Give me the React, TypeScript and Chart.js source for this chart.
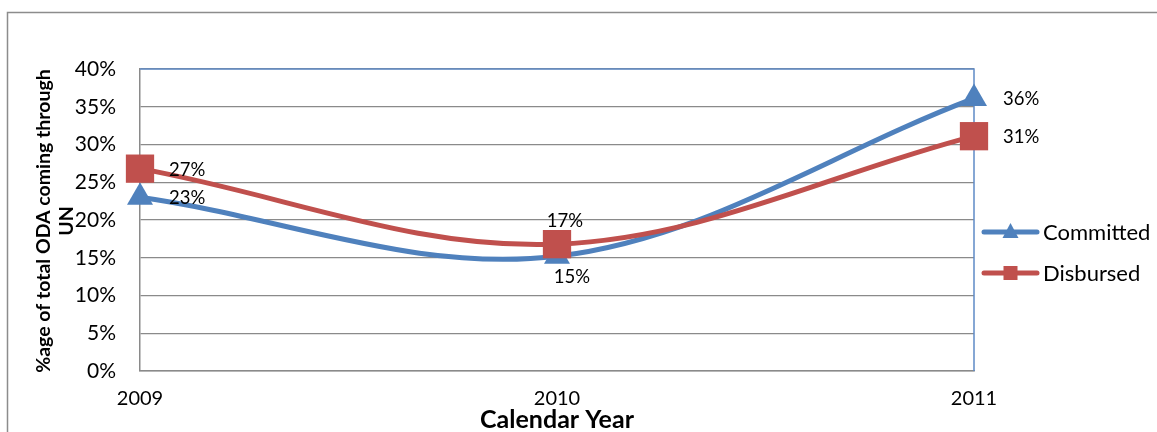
import React, { useEffect, useRef } from "react";
import { Chart, registerables } from "chart.js";

Chart.register(...registerables);

const categories = ["2009", "2010", "2011"];
const committed = [23.0, 15.2, 36.1];
const disbursed = [26.8, 16.8, 31.1];
const seriesNames = ["Committed", "Disbursed"];
const yMin = 0;
const yMax = 40;
const yStep = 5;
const xTitle = "Calendar Year";
const yTitleLines = ["%age of total ODA coming through", "UN"];
// where each data label sits relative to its point
const labelPlacement = [
  ["right", "below", "right"],
  ["right", "above", "right"],
];

const FONT = "Lato, 'Open Sans', sans-serif";
const BLUE = "#4F81BD";
const RED = "#C0504D";
const GRID = "#8a8a8a";

const decor = {
  id: "decor",
  beforeDraw(chart: any) {
    const ctx = chart.ctx;
    ctx.save();
    ctx.fillStyle = "#ffffff";
    ctx.fillRect(0, 0, chart.width, chart.height);
    ctx.strokeStyle = "#8c8c8c";
    ctx.lineWidth = 1.5;
    ctx.strokeRect(7.5, 12.5, chart.width + 20, chart.height + 20);
    ctx.restore();
  },
  beforeDatasetsDraw(chart: any) {
    const { ctx, chartArea } = chart;
    ctx.save();
    ctx.strokeStyle = "#5f8bc6";
    ctx.lineWidth = 1.5;
    ctx.beginPath();
    ctx.moveTo(chartArea.left, chartArea.top);
    ctx.lineTo(chartArea.right, chartArea.top);
    ctx.lineTo(chartArea.right, chartArea.bottom);
    ctx.stroke();
    ctx.restore();
  },
  afterDatasetsDraw(chart: any) {
    const { ctx, chartArea } = chart;
    ctx.save();
    // data labels
    ctx.fillStyle = "#000";
    ctx.font = `18.5px ${FONT}`;
    ctx.textBaseline = "middle";
    chart.data.datasets.forEach((ds: any, i: number) => {
      const meta = chart.getDatasetMeta(i);
      meta.data.forEach((pt: any, j: number) => {
        const text = Math.round(ds.data[j]) + "%";
        const place = labelPlacement[i][j];
        if (place === "right") {
          ctx.textAlign = "left";
          ctx.fillText(text, pt.x + 29, pt.y + 1);
        } else if (place === "above") {
          ctx.textAlign = "center";
          ctx.fillText(text, pt.x + 8, pt.y - 23);
        } else {
          ctx.textAlign = "center";
          ctx.fillText(text, pt.x + 15, pt.y + 21);
        }
      });
    });

    // legend
    const lx0 = chartArea.right + 10;
    const lx1 = chartArea.right + 63;
    const rows = [232, 273];
    chart.data.datasets.forEach((ds: any, i: number) => {
      const y = rows[i];
      ctx.strokeStyle = ds.borderColor;
      ctx.lineWidth = 5;
      ctx.lineCap = "round";
      ctx.beginPath();
      ctx.moveTo(lx0, y);
      ctx.lineTo(lx1, y);
      ctx.stroke();
      ctx.fillStyle = ds.borderColor;
      const cx = (lx0 + lx1) / 2;
      if (i === 0) {
        ctx.beginPath();
        ctx.moveTo(cx, y - 9);
        ctx.lineTo(cx + 8, y + 6);
        ctx.lineTo(cx - 8, y + 6);
        ctx.closePath();
        ctx.fill();
      } else {
        ctx.fillRect(cx - 7, y - 7, 14, 14);
      }
      ctx.fillStyle = "#000";
      ctx.font = `22px ${FONT}`;
      ctx.textAlign = "left";
      ctx.textBaseline = "middle";
      ctx.fillText(seriesNames[i], lx1 + 6, y + 1);
    });

    // x title
    ctx.font = `bold 25px ${FONT}`;
    ctx.textAlign = "center";
    ctx.textBaseline = "alphabetic";
    ctx.fillText(xTitle, (chartArea.left + chartArea.right) / 2, 428);

    // y title
    ctx.save();
    ctx.translate(0, 221);
    ctx.rotate(-Math.PI / 2);
    ctx.font = `bold 19.5px ${FONT}`;
    ctx.textAlign = "center";
    ctx.textBaseline = "middle";
    ctx.fillText(yTitleLines[0], 0, 44);
    ctx.fillText(yTitleLines[1], 0, 67);
    ctx.restore();

    ctx.restore();
  },
};

export default function App() {
  const ref = useRef<HTMLCanvasElement | null>(null);
  useEffect(() => {
    document.body.style.margin = "0";
    if (!ref.current) return;
    const chart = new Chart(ref.current, {
      type: "line",
      data: {
        labels: categories,
        datasets: [
          {
            label: seriesNames[0],
            data: committed,
            borderColor: BLUE,
            backgroundColor: BLUE,
            borderWidth: 5,
            tension: 0.35,
            pointStyle: "triangle",
            pointRadius: 15,
            pointBorderWidth: 0,
            borderCapStyle: "round",
            order: 2,
          },
          {
            label: seriesNames[1],
            data: disbursed,
            borderColor: RED,
            backgroundColor: RED,
            borderWidth: 5,
            tension: 0.35,
            pointStyle: "rect",
            pointRadius: 20,
            pointBorderWidth: 0,
            borderCapStyle: "round",
            order: 1,
          },
        ],
      },
      options: {
        responsive: false,
        animation: false,
        layout: { padding: { left: 0, top: 69, right: 183, bottom: 0 } },
        plugins: {
          legend: { display: false },
          tooltip: { enabled: false },
          title: { display: false },
        },
        scales: {
          x: {
            type: "category",
            offset: false,
            grid: { display: false, drawTicks: false },
            border: { color: GRID, width: 1.5 },
            ticks: {
              color: "#000",
              font: { family: FONT, size: 20 },
              padding: 16,
              maxRotation: 0,
              autoSkip: false,
            },
            afterFit: (s: any) => {
              s.height = 61;
            },
          },
          y: {
            min: yMin,
            max: yMax,
            grid: { color: GRID, lineWidth: 1.2, drawTicks: false },
            border: { color: GRID, width: 1.5 },
            ticks: {
              stepSize: yStep,
              color: "#000",
              font: { family: FONT, size: 21 },
              padding: 24,
              callback: (v: any) => v + "%",
            },
            afterFit: (s: any) => {
              s.width = 140;
            },
          },
        },
      },
      plugins: [decor],
    });
    return () => chart.destroy();
  }, []);
  return <canvas ref={ref} width={1157} height={432} style={{ display: "block" }} />;
}
